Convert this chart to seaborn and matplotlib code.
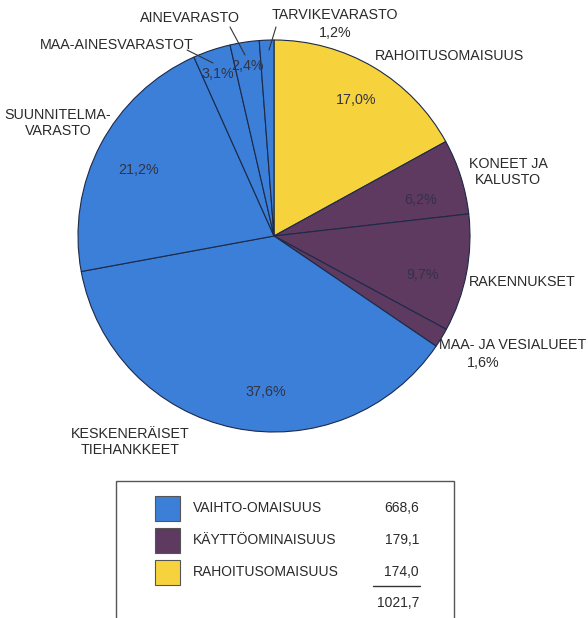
import matplotlib
matplotlib.use("Agg")
import matplotlib.pyplot as plt
import matplotlib.patches as mpatches
import seaborn as sns

# slices clockwise from 12 o'clock, shares in %
slice_names = ["RAHOITUSOMAISUUS", "KONEET JA\nKALUSTO", "RAKENNUKSET",
               "MAA- JA VESIALUEET", "KESKENERÄISET\nTIEHANKKEET",
               "SUUNNITELMA-\nVARASTO", "MAA-AINESVARASTOT", "AINEVARASTO",
               "TARVIKEVARASTO"]
slice_shares = [17.0, 6.2, 9.7, 1.6, 37.6, 21.2, 3.1, 2.4, 1.2]
slice_group = [2, 1, 1, 1, 0, 0, 0, 0, 0]

group_names = ["VAIHTO-OMAISUUS", "KÄYTTÖOMINAISUUS", "RAHOITUSOMAISUUS"]
group_values = [668.6, 179.1, 174.0]
group_colors = ["#3c7fd8", "#5e3a61", "#f6d33c"]

sns.set_theme(style="white")
plt.rcParams["font.family"] = ["Liberation Sans", "DejaVu Sans"]

fig = plt.figure(figsize=(5.88, 6.18), dpi=100)
ax = fig.add_axes([0, 0, 1, 1])

# y axis is inverted below, so start at -90 and go "counterclock" -> clockwise from top
ax.pie(slice_shares, colors=[group_colors[g] for g in slice_group],
       startangle=-90, counterclock=True, center=(274, 236), radius=196,
       wedgeprops=dict(edgecolor="#1c2a48", linewidth=0.8), frame=True)
ax.set_xlim(0, 588)
ax.set_ylim(618, 0)  # pixel-like coords, y down
ax.set_aspect("equal")
ax.axis("off")

def pct(v):
    return f"{v:.1f}%".replace(".", ",")

fs = 10.3
txt = dict(fontsize=fs, color="#2a2a2a")
pcol = dict(fontsize=fs, color="#333344")

# percent labels inside
inside = {0: (356, 100), 1: (421, 200), 2: (423, 275), 4: (266, 392),
          5: (139, 170), 6: (218, 74), 7: (248, 66)}
for i, (x, y) in inside.items():
    ax.text(x, y, pct(slice_shares[i]), ha="center", va="center", **pcol)

# outside labels
ax.text(450, 56, slice_names[0], ha="center", va="center", **txt)
ax.text(508, 172, slice_names[1], ha="center", va="center", linespacing=1.2, **txt)
ax.text(522, 282, slice_names[2], ha="center", va="center", **txt)
ax.text(513, 345, slice_names[3], ha="center", va="center", **txt)
ax.text(483, 363, pct(slice_shares[3]), ha="center", va="center", **txt)
ax.text(130, 442, slice_names[4], ha="center", va="center", linespacing=1.2, **txt)
ax.text(58, 123, slice_names[5], ha="center", va="center", linespacing=1.2, **txt)
ax.text(117, 45, slice_names[6], ha="center", va="center", **txt)
ax.text(190, 18, slice_names[7], ha="center", va="center", **txt)
ax.text(335, 15, slice_names[8], ha="center", va="center", **txt)
ax.text(335, 33, pct(slice_shares[8]), ha="center", va="center", **txt)

# leader lines
lc = dict(color="#333333", lw=0.8)
ax.plot([187, 213], [50, 63], **lc)
ax.plot([230, 245], [27, 55], **lc)
ax.plot([276, 269], [27, 50], **lc)

# legend box
ax.add_patch(mpatches.Rectangle((116, 481), 338, 160, fill=False,
                                edgecolor="#555555", lw=1.0))
lfs = dict(fontsize=10, color="#2a2a2a")
for i, (name, val, col) in enumerate(zip(group_names, group_values, group_colors)):
    y = 508 + i * 32
    ax.add_patch(mpatches.Rectangle((155, y - 12.5), 25, 25, facecolor=col,
                                    edgecolor="#555555", lw=0.8))
    ax.text(193, y, name, ha="left", va="center", **lfs)
    ax.text(419, y, f"{val:.1f}".replace(".", ","), ha="right", va="center", **lfs)
ax.plot([373, 420], [586, 586], color="#333333", lw=1.0)
ax.text(419, 603, f"{sum(group_values):.1f}".replace(".", ","),
        ha="right", va="center", **lfs)

fig.savefig("out.png", dpi=100)
